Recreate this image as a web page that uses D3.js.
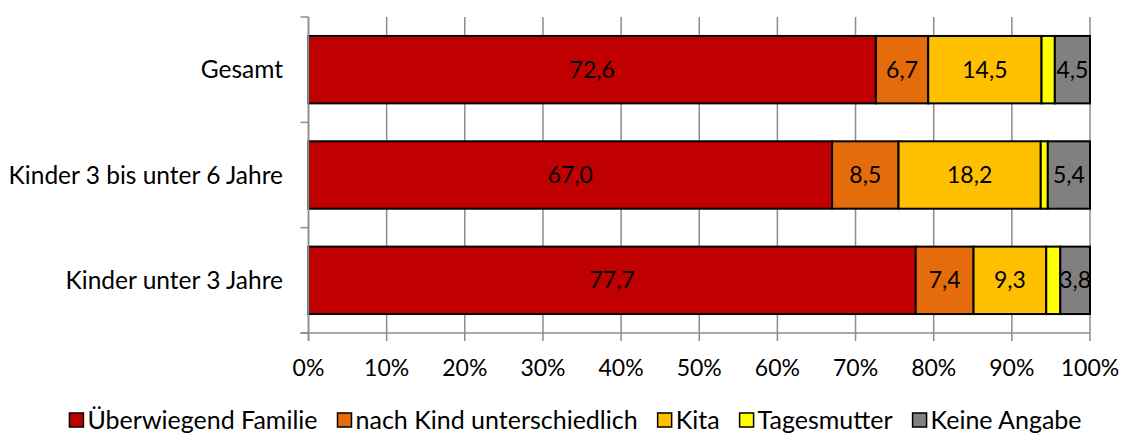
<!DOCTYPE html>
<html>
<head>
<meta charset="utf-8">
<script src="https://cdn.jsdelivr.net/npm/d3@7"></script>
<style>
  body { margin: 0; background: #fff; }
  text { font-family: Lato, "Open Sans", sans-serif; fill: #000; }
</style>
</head>
<body>
<svg width="1121" height="436"></svg>
<script>
  // categories top to bottom
  var categories = ['Gesamt', 'Kinder 3 bis unter 6 Jahre', 'Kinder unter 3 Jahre'];
  var seriesNames = ['Überwiegend Familie', 'nach Kind unterschiedlich', 'Kita', 'Tagesmutter', 'Keine Angabe'];
  var familie = [72.6, 67.0, 77.7];
  var nachKind = [6.7, 8.5, 7.4];
  var kita = [14.5, 18.2, 9.3];
  var tagesmutter = [1.7, 0.9, 1.8];
  var keineAngabe = [4.5, 5.4, 3.8];
  var showLabel = [true, true, true, false, true];
  var colors = ['#C00000', '#E46C0A', '#FFC000', '#FFFF00', '#808080'];
  var xTicks = [0, 10, 20, 30, 40, 50, 60, 70, 80, 90, 100];

  var svg = d3.select('svg');
  var plotL = 308.5, plotR = 1090, plotT = 17, plotB = 333;
  var fs = '23px';

  var x = d3.scaleLinear().domain([0, 100]).range([plotL, plotR]);
  var y = d3.scaleBand().domain(categories).range([plotT, plotB]).paddingInner(0.36).paddingOuter(0.18);

  var seriesVals = [familie, nachKind, kita, tagesmutter, keineAngabe];
  var rows = categories.map(function (c, i) {
    var o = { cat: c };
    seriesNames.forEach(function (s, j) { o[s] = seriesVals[j][i]; });
    return o;
  });
  var stacked = d3.stack().keys(seriesNames)(rows);

  // gridlines
  svg.append('g').selectAll('line').data(xTicks).enter().append('line')
    .attr('x1', function (d) { return x(d); })
    .attr('x2', function (d) { return x(d); })
    .attr('y1', plotT).attr('y2', plotB + 8)
    .attr('stroke', '#8c8c8c').attr('stroke-width', 1.5);

  // bottom axis line
  svg.append('line').attr('x1', plotL - 8).attr('x2', plotR)
    .attr('y1', plotB).attr('y2', plotB)
    .attr('stroke', '#8c8c8c').attr('stroke-width', 1.5);

  // left axis ticks at band boundaries
  var bounds = [plotT].concat(categories.map(function (c) { return y(c) + y.bandwidth() + y.step() * y.paddingInner() / 2; }));
  bounds[bounds.length - 1] = plotB;
  svg.append('g').selectAll('line').data(bounds).enter().append('line')
    .attr('x1', plotL - 8).attr('x2', plotL)
    .attr('y1', function (d) { return d; }).attr('y2', function (d) { return d; })
    .attr('stroke', '#8c8c8c').attr('stroke-width', 1.5);

  // bars
  var layer = svg.append('g').selectAll('g').data(stacked).enter().append('g')
    .attr('fill', function (d, i) { return colors[i]; });

  layer.selectAll('rect').data(function (d) { return d; }).enter().append('rect')
    .attr('x', function (d) { return x(d[0]); })
    .attr('width', function (d) { return x(d[1]) - x(d[0]); })
    .attr('y', function (d) { return y(d.data.cat); })
    .attr('height', y.bandwidth())
    .attr('stroke', '#000').attr('stroke-width', 2);

  // value labels
  var fmt = function (v) { return v.toFixed(1).replace('.', ','); };
  stacked.forEach(function (s, i) {
    if (!showLabel[i]) return;
    svg.append('g').selectAll('text').data(s).enter().append('text')
      .attr('x', function (d) { return (x(d[0]) + x(d[1])) / 2; })
      .attr('y', function (d) { return y(d.data.cat) + y.bandwidth() / 2; })
      .attr('dy', '0.35em')
      .attr('text-anchor', 'middle')
      .style('font-size', fs)
      .text(function (d) { return fmt(d[1] - d[0]); });
  });

  // left axis line
  svg.append('line').attr('x1', plotL).attr('x2', plotL)
    .attr('y1', plotT).attr('y2', plotB + 8)
    .attr('stroke', '#8c8c8c').attr('stroke-width', 1.5);

  // category labels
  svg.append('g').selectAll('text').data(categories).enter().append('text')
    .attr('x', 283)
    .attr('y', function (d) { return y(d) + y.bandwidth() / 2; })
    .attr('dy', '0.35em')
    .attr('text-anchor', 'end')
    .style('font-size', '24.5px')
    .text(function (d) { return d; });

  // x tick labels
  svg.append('g').selectAll('text').data(xTicks).enter().append('text')
    .attr('x', function (d) { return x(d); })
    .attr('y', 376)
    .attr('text-anchor', 'middle')
    .style('font-size', fs)
    .text(function (d) { return d + '%'; });

  // legend
  var legend = svg.append('g');
  var lx = 0;
  seriesNames.forEach(function (s, i) {
    var g = legend.append('g').attr('transform', 'translate(' + lx + ',0)');
    g.append('rect').attr('x', 0).attr('y', 413).attr('width', 14).attr('height', 14)
      .attr('fill', colors[i]).attr('stroke', '#000').attr('stroke-width', 1.5);
    var t = g.append('text').attr('x', 18).attr('y', 429).style('font-size', '25px').text(s);
    lx += 18 + t.node().getComputedTextLength() + 20;
  });
  var lw = lx - 20;
  legend.attr('transform', 'translate(' + (575.5 - lw / 2) + ',0)');
</script>
</body>
</html>
